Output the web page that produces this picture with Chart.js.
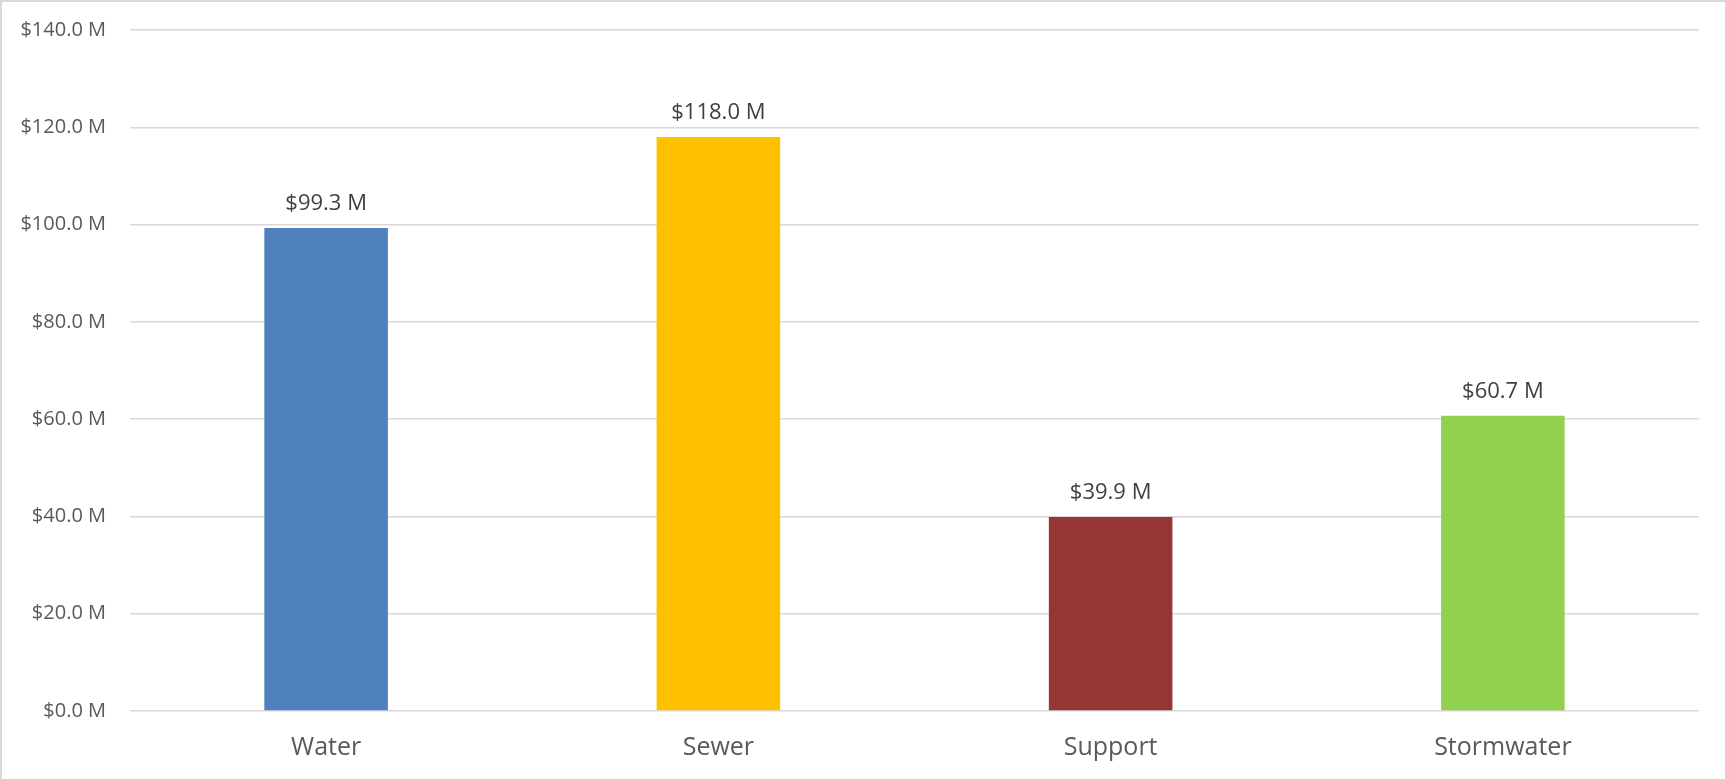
<!DOCTYPE html>
<html>
<head>
<meta charset="utf-8">
<script src="https://cdn.jsdelivr.net/npm/chart.js@4"></script>
<style>
  body { margin: 0; background: #fff; }
  #wrap { position: relative; width: 1725px; height: 779px; }
  #wrap::after {
    content: ''; position: absolute; left: 0; top: 0; right: 0; bottom: 0;
    border-left: 2px solid #d9d9d9; border-top: 2px solid #d9d9d9;
    pointer-events: none;
  }
</style>
</head>
<body>
<div id="wrap"><canvas id="chart" width="1725" height="779"></canvas></div>
<script>
// Chart data
const categories = ['Water', 'Sewer', 'Support', 'Stormwater'];
const values = [99.3, 118.0, 39.9, 60.7];
const barColors = ['#4F81BD', '#FFC000', '#963634', '#92D050'];
const yTicks = [0, 20, 40, 60, 80, 100, 120, 140];

const money = v => '$' + Number(v).toFixed(1) + ' M';

// Draw value labels above each bar
const barLabels = {
  id: 'barLabels',
  afterDatasetsDraw(chart) {
    const ctx = chart.ctx;
    const meta = chart.getDatasetMeta(0);
    ctx.save();
    ctx.font = '22px "Open Sans"';
    ctx.fillStyle = '#404040';
    ctx.textAlign = 'center';
    ctx.textBaseline = 'bottom';
    meta.data.forEach((bar, i) => {
      ctx.fillText(money(values[i]), bar.x, bar.y - 13);
    });
    ctx.restore();
  }
};

const ctx = document.getElementById('chart').getContext('2d');
new Chart(ctx, {
  type: 'bar',
  data: {
    labels: categories,
    datasets: [{
      data: values,
      backgroundColor: barColors,
      borderWidth: 0,
      barPercentage: 0.63,
      categoryPercentage: 0.5
    }]
  },
  options: {
    responsive: false,
    animation: false,
    layout: { padding: { top: 30, right: 26, left: 0, bottom: 0 } },
    plugins: { legend: { display: false }, tooltip: { enabled: false } },
    scales: {
      x: {
        grid: { display: false },
        border: { display: false },
        ticks: { color: '#595959', font: { family: 'Open Sans', size: 25 }, padding: 14 },
        afterFit(scale) { scale.height = 68; }
      },
      y: {
        min: 0,
        max: 140,
        afterBuildTicks(scale) { scale.ticks = yTicks.map(v => ({ value: v })); },
        grid: { color: '#d9d9d9', lineWidth: 1.5, drawTicks: true, tickLength: 24, tickColor: 'rgba(0,0,0,0)' },
        border: { display: false },
        ticks: {
          color: '#595959',
          font: { family: 'Open Sans', size: 20 },
          padding: 0,
          callback: v => money(v)
        },
        afterFit(scale) { scale.width = 130; }
      }
    }
  },
  plugins: [barLabels]
});
</script>
</body>
</html>
